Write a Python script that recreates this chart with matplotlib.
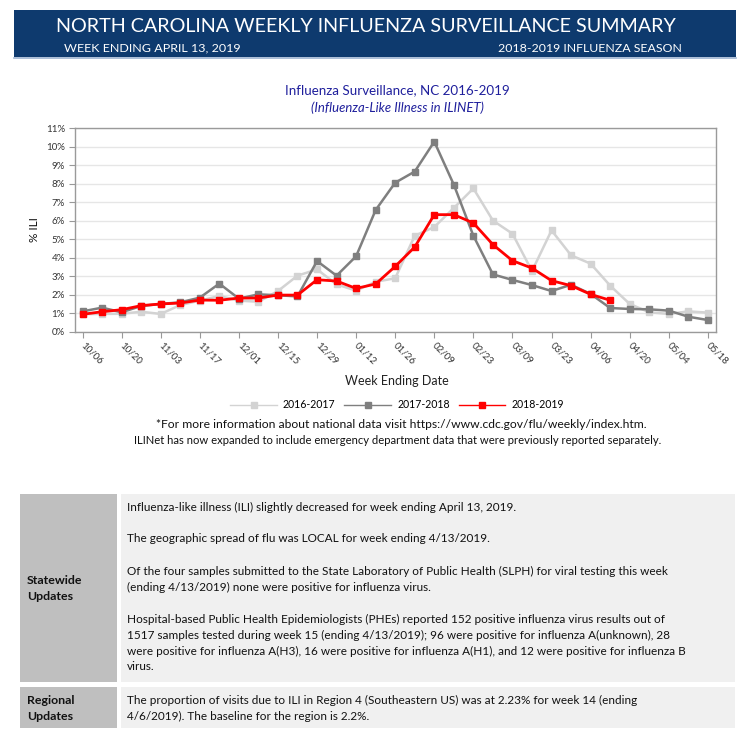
import matplotlib
matplotlib.use('Agg')
import matplotlib.pyplot as plt
import numpy as np
from matplotlib.patches import Rectangle
from matplotlib.lines import Line2D

plt.rcParams['font.family'] = ['Lato', 'DejaVu Sans']

# week index 0 = 10/06, one point per week
tick_labels = ['10/06', '10/20', '11/03', '11/17', '12/01', '12/15', '12/29', '01/12',
               '01/26', '02/09', '02/23', '03/09', '03/23', '04/06', '04/20', '05/04', '05/18']
seasons = ['2016-2017', '2017-2018', '2018-2019']

ili_2016 = [0.95, 0.96, 0.97, 1.08, 0.96, 1.44, 1.68, 1.93, 1.68, 1.62, 2.20, 3.03, 3.37,
            2.56, 2.22, 2.70, 2.89, 5.19, 5.66, 6.69, 7.75, 6.01, 5.30, 3.28, 5.48, 4.13,
            3.68, 2.49, 1.50, 1.05, 0.96, 1.10, 1.03]
ili_2017 = [1.10, 1.30, 1.05, 1.39, 1.50, 1.59, 1.84, 2.60, 1.79, 2.02, 1.97, 1.91, 3.82,
            3.03, 4.08, 6.58, 8.06, 8.66, 10.28, 7.95, 5.19, 3.10, 2.80, 2.52, 2.20, 2.54,
            2.04, 1.28, 1.23, 1.21, 1.14, 0.81, 0.63]
ili_2018 = [0.94, 1.08, 1.19, 1.41, 1.50, 1.55, 1.71, 1.70, 1.82, 1.82, 1.98, 1.98, 2.81,
            2.74, 2.34, 2.58, 3.53, 4.58, 6.33, 6.33, 5.88, 4.71, 3.84, 3.44, 2.76, 2.49,
            2.02, 1.70]

statewide = [
    ["Influenza-like illness (ILI) slightly decreased for week ending April 13, 2019."],
    ["The geographic spread of flu was LOCAL for week ending 4/13/2019."],
    ["Of the four samples submitted to the State Laboratory of Public Health (SLPH) for viral testing this week",
     "(ending 4/13/2019) none were positive for influenza virus."],
    ["Hospital-based Public Health Epidemiologists (PHEs) reported 152 positive influenza virus results out of",
     "1517 samples tested during week 15 (ending 4/13/2019); 96 were positive for influenza A(unknown), 28",
     "were positive for influenza A(H3), 16 were positive for influenza A(H1), and 12 were positive for influenza B",
     "virus."],
]
regional = ["The proportion of visits due to ILI in Region 4 (Southeastern US) was at 2.23% for week 14 (ending",
            "4/6/2019). The baseline for the region is 2.2%."]

W, H = 745, 730
fig = plt.figure(figsize=(W / 100, H / 100), dpi=100)
renderer = fig.canvas.get_renderer()


def fit(t, width):
    w = t.get_window_extent(renderer).width
    t.set_fontsize(t.get_fontsize() * width / w)
    return t


# page layer in pixel coordinates
pg = fig.add_axes([0, 0, 1, 1])
pg.set_xlim(0, W)
pg.set_ylim(H, 0)
pg.axis('off')

pg.add_patch(Rectangle((14, 10), 722, 47, color='#0E3A6E', lw=0))
pg.plot([14, 736], [57.5, 57.5], color='#9DB3D1', lw=1.2)
fit(pg.text(366, 27, 'NORTH CAROLINA WEEKLY INFLUENZA SURVEILLANCE SUMMARY', color='white',
            ha='center', va='center', fontsize=16), 621)
fit(pg.text(64, 48, 'WEEK ENDING APRIL 13, 2019', color='white', ha='left', va='center', fontsize=9), 176)
fit(pg.text(682, 48, '2018-2019 INFLUENZA SEASON', color='white', ha='right', va='center', fontsize=9), 184)

fit(pg.text(397, 90, 'Influenza Surveillance, NC 2016-2019', color='#1F1F9C',
            ha='center', va='center', fontsize=10), 223)
fit(pg.text(397, 108, '(Influenza-Like Illness in ILINET)', color='#1F1F9C', style='italic',
            ha='center', va='center', fontsize=9), 173)

pg.text(397, 381, 'Week Ending Date', ha='center', va='center', fontsize=9, color='#222222')
fit(pg.text(401, 425, '*For more information about national data visit https://www.cdc.gov/flu/weekly/index.htm.',
            ha='center', va='center', fontsize=8.5, color='#111111'), 490)
fit(pg.text(398, 440, 'ILINet has now expanded to include emergency department data that were previously reported separately.',
            ha='center', va='center', fontsize=8.5, color='#111111'), 531)

# table
pg.add_patch(Rectangle((20, 494), 97, 188, color='#BFBFBF', lw=0))
pg.add_patch(Rectangle((121, 494), 614, 188, color='#F0F0F0', lw=0))
pg.add_patch(Rectangle((20, 687), 97, 41, color='#BFBFBF', lw=0))
pg.add_patch(Rectangle((121, 687), 614, 41, color='#F0F0F0', lw=0))

ref = pg.text(127, 619, statewide[3][0], ha='left', va='center', fontsize=9, color='#111111')
fit(ref, 538)
body_size = ref.get_fontsize()
ref.remove()

y = 507
for para in statewide:
    for line in para:
        pg.text(127, y, line, ha='left', va='center', fontsize=body_size, color='#111111')
        y += 16
    y += 16
for i, line in enumerate(regional):
    pg.text(127, 700 + 16 * i, line, ha='left', va='center', fontsize=body_size, color='#111111')

for i, word in enumerate(['Statewide', 'Updates']):
    pg.text(27, 580 + 16 * i, word, ha='left', va='center', fontsize=body_size + 0.4, weight='bold', color='#111111')
for i, word in enumerate(['Regional', 'Updates']):
    pg.text(27, 700 + 16 * i, word, ha='left', va='center', fontsize=body_size + 0.4, weight='bold', color='#111111')

# chart
ax = fig.add_axes([74.7 / W, 1 - 331.7 / H, (715.7 - 74.7) / W, (331.7 - 128.3) / H])
styles = [dict(color='#D3D3D3', lw=1.8, marker='s', ms=4.2, zorder=3),
          dict(color='#7F7F7F', lw=1.8, marker='s', ms=4.2, zorder=4),
          dict(color='#FF0000', lw=2.0, marker='s', ms=4.6, zorder=5)]
for name, vals, st in zip(seasons, [ili_2016, ili_2017, ili_2018], styles):
    ax.plot(np.arange(len(vals)), vals, label=name, **st)

ax.set_xlim(-0.4, 32.4)
ax.set_ylim(0, 11)
ax.set_xticks(np.arange(0, 2 * len(tick_labels), 2))
ax.set_xticklabels(tick_labels, rotation=-45, ha='left', va='center', rotation_mode='anchor',
                   fontsize=7, color='#333333')
ax.set_yticks(np.arange(0, 12))
ax.set_yticklabels([f'{v}%' for v in range(12)], fontsize=7, color='#333333')
ax.tick_params(axis='both', length=4, color='#999999', width=0.8)
ax.tick_params(axis='x', pad=5)
ax.tick_params(axis='y', pad=3)
ax.grid(axis='y', color='#E6E6E6', lw=1)
ax.set_axisbelow(True)
for s in ax.spines.values():
    s.set_color('#9A9A9A')
    s.set_linewidth(1)
ax.set_ylabel('% ILI', fontsize=8.5, labelpad=4, color='#111111')

handles = [Line2D([], [], color=st['color'], lw=1.0, marker='s', ms=4.0) for st in styles]
fig.legend(handles, seasons, loc='center', bbox_to_anchor=(397 / W, 1 - 405 / H), ncol=3,
           frameon=False, fontsize=7.6, handlelength=4.4, handletextpad=0.58, columnspacing=0.85)

fig.savefig('out.png', dpi=100)
